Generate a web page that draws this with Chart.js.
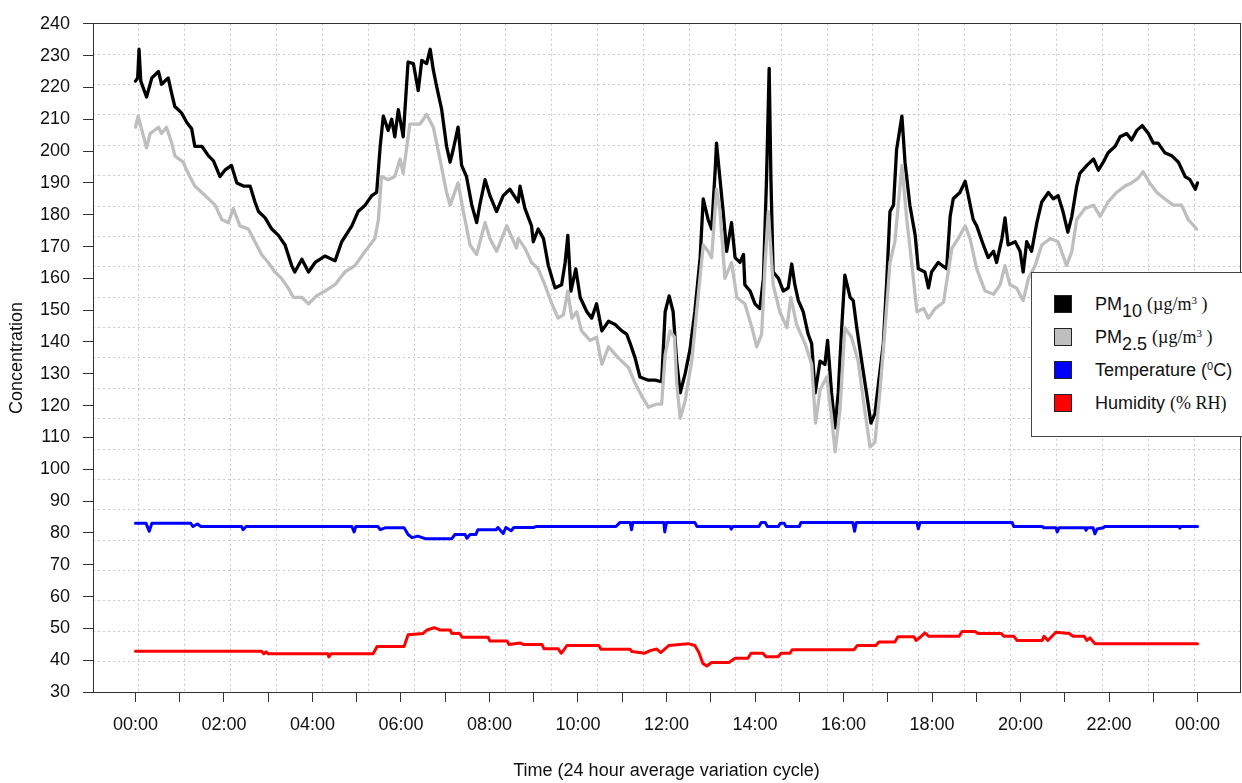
<!DOCTYPE html>
<html>
<head>
<meta charset="utf-8">
<script src="https://cdn.jsdelivr.net/npm/chart.js@4.4.1/dist/chart.umd.min.js"></script>
<style>
html,body{margin:0;padding:0;background:#fff;overflow:hidden;}
#wrap{position:relative;width:1242px;height:783px;overflow:hidden;}
#legend{position:absolute;left:1031px;top:272px;width:220px;height:165px;border:1px solid #444;background:#fff;box-sizing:border-box;font-family:"Liberation Sans",Arial,sans-serif;font-size:18px;color:#111;}
.row{position:absolute;left:0;right:0;height:20px;}
.sw{position:absolute;left:22px;top:1px;width:18px;height:18px;box-sizing:border-box;border:1px solid #222;}
.tx{position:absolute;left:63px;top:0;line-height:20px;white-space:nowrap;}
.serif{font-family:"Liberation Serif","Times New Roman",serif;font-size:18px;}
.sub{position:relative;top:7px;}
.sup{font-size:11px;position:relative;top:-6px;}
</style>
</head>
<body>
<div id="wrap">
<canvas id="c" width="1242" height="783"></canvas>
<div id="legend">
  <div class="row" style="top:21px"><div class="sw" style="background:#000"></div><div class="tx">PM<span class="sub">10</span>&nbsp;<span class="serif">(µg/m<span class="sup">3</span> )</span></div></div>
  <div class="row" style="top:54px"><div class="sw" style="background:#bebebe"></div><div class="tx">PM<span class="sub">2.5</span>&nbsp;<span class="serif">(µg/m<span class="sup">3</span> )</span></div></div>
  <div class="row" style="top:87px"><div class="sw" style="background:#0000ff"></div><div class="tx">Temperature (<span class="sup">0</span>C)</div></div>
  <div class="row" style="top:120px"><div class="sw" style="background:#ff0000"></div><div class="tx">Humidity <span class="serif">(% RH)</span></div></div>
</div>
</div>
<script>
// ---------- data ----------
const xTickHours = [0,1,2,3,4,5,6,7,8,9,10,11,12,13,14,15,16,17,18,19,20,21,22,23,24];
const yTickValues = [30,40,50,60,70,80,90,100,110,120,130,140,150,160,170,180,190,200,210,220,230,240];

const pm10Hours = [0,0.05,0.08,0.12,0.25,0.37,0.52,0.59,0.74,0.82,0.89,1.04,1.16,1.27,1.34,1.5,1.65,1.76,1.91,2.02,2.17,2.29,2.44,2.59,2.7,2.78,2.93,3.08,3.23,3.38,3.53,3.6,3.76,3.91,4.06,4.28,4.51,4.66,4.89,5.03,5.19,5.34,5.45,5.53,5.6,5.71,5.79,5.86,5.94,6.05,6.16,6.28,6.39,6.47,6.58,6.66,6.73,6.81,6.92,7.03,7.11,7.18,7.29,7.37,7.48,7.6,7.71,7.78,7.9,8.01,8.16,8.31,8.46,8.65,8.69,8.8,8.95,8.99,9.1,9.22,9.33,9.48,9.63,9.71,9.77,9.84,9.95,10.05,10.2,10.31,10.42,10.54,10.69,10.84,10.99,11.1,11.18,11.29,11.4,11.59,11.74,11.89,11.97,12.06,12.15,12.23,12.31,12.42,12.53,12.64,12.76,12.83,12.94,13.02,13.1,13.13,13.21,13.28,13.36,13.47,13.55,13.66,13.74,13.77,13.89,14.0,14.11,14.19,14.26,14.32,14.36,14.41,14.53,14.64,14.75,14.83,14.9,14.98,15.09,15.2,15.28,15.36,15.47,15.58,15.64,15.73,15.81,15.88,15.96,16.03,16.15,16.22,16.3,16.41,16.52,16.62,16.71,16.79,16.9,16.98,17.05,17.13,17.2,17.32,17.39,17.5,17.62,17.69,17.84,17.92,17.99,18.14,18.33,18.41,18.48,18.63,18.75,18.82,18.93,19.01,19.16,19.27,19.39,19.46,19.58,19.65,19.72,19.88,19.99,20.06,20.14,20.25,20.37,20.48,20.63,20.74,20.85,20.96,21.07,21.16,21.27,21.34,21.5,21.65,21.76,21.87,21.98,22.14,22.25,22.4,22.51,22.63,22.75,22.89,23.0,23.11,23.26,23.42,23.57,23.72,23.83,23.95,24.0];
const pm10Values = [222,223,232,222,217,223,225,221,223,218,214,212,209,207,201.5,201.5,198.5,197,192,194,195.5,190,189,189,184,181,179,175.5,173.5,170.5,164,162,166,162,165,167,165.5,171.5,176.5,181,183,186,187,201.5,211,206.5,210,204.5,213,204.5,228,227.5,219,228.5,227.5,232,225.5,220,213,201.5,196.5,200.5,207.5,195.5,192,183,177.5,183,191,186,181,186,188,184,189,182,176.5,171.5,175.5,172.5,164,157,158,165,173.5,156,163,154,149.5,147.5,152,143.5,146.5,145.5,143.5,142.5,139.5,135,129,128,128,127.5,149.5,154.5,149.5,134,124,130,137.5,149.5,166.5,185,178.5,175.5,194,202.5,191,181,168.5,177.5,166.5,165,167.5,158,156,152,150.5,160,191,226,191,162,160,156,157,164.5,158,153,149.5,142.5,139.5,124,134,133,140.5,124,113,124,144.5,161,154,153,144.5,134,124,114.5,117.5,127,139.5,160,181,183,200.5,211,196.5,183,173.5,163,162,157,162,165,163,179.5,185,187,190.5,186,178.5,176.5,170.5,166.5,168.5,165,172.5,179,170.5,171.5,168.5,162,171.5,168.5,177.5,184,187,185,186,181,174.5,179.5,189,193,195.5,197.5,194,196.5,199.5,201.5,204.5,205.5,203.5,206.5,208,205.5,202.5,202.5,199.5,198.5,196.5,192,191,188,190];

const pm25Hours = [0,0.06,0.25,0.33,0.52,0.59,0.7,0.82,0.89,1.08,1.19,1.34,1.5,1.65,1.8,1.95,2.1,2.21,2.36,2.55,2.7,2.85,3.0,3.15,3.3,3.45,3.57,3.76,3.91,4.09,4.28,4.51,4.73,4.96,5.19,5.41,5.49,5.56,5.71,5.86,5.98,6.05,6.2,6.43,6.58,6.73,6.88,7.03,7.11,7.29,7.41,7.56,7.71,7.9,8.01,8.16,8.39,8.61,8.65,8.8,8.95,9.1,9.25,9.41,9.55,9.67,9.77,9.86,9.97,10.08,10.27,10.42,10.54,10.69,10.91,11.14,11.29,11.44,11.59,11.78,11.89,11.97,12.08,12.18,12.23,12.31,12.42,12.57,12.72,12.83,12.94,13.02,13.13,13.21,13.32,13.47,13.59,13.77,13.93,14.04,14.15,14.23,14.3,14.36,14.41,14.56,14.72,14.81,14.94,15.13,15.28,15.37,15.47,15.62,15.73,15.81,15.92,16.03,16.18,16.33,16.48,16.6,16.71,16.82,16.94,17.05,17.16,17.32,17.43,17.54,17.66,17.81,17.92,18.07,18.26,18.45,18.59,18.75,18.86,19.01,19.2,19.39,19.54,19.65,19.76,19.91,20.06,20.18,20.33,20.48,20.67,20.85,21.04,21.16,21.27,21.46,21.65,21.8,21.98,22.17,22.36,22.51,22.66,22.77,22.92,23.08,23.26,23.45,23.64,23.79,23.98];
const pm25Values = [207.5,211,201,205.5,207.5,205.5,207.5,202.5,198.5,196.5,193,189,187,185,183,178.5,177.5,182,176.5,175.5,171.5,167.5,165,162,160,157,154,154,152,154.5,156,158,162,164,168.5,172.5,178.5,192,191,192,197.5,193,208.5,208.5,211.5,207.5,197.5,187,183,190,181,170.5,167.5,177.5,172.5,168.5,176.5,169.5,172.5,169.5,165,163,158,152,147.5,148.5,156,147.5,149.5,143.5,140.5,141.5,133,138.5,135,132,127,123,119.5,120.5,120.5,136,143.5,141.5,127,116,121.5,134,155,170.5,168.5,166.5,188,181,160,165,154,152,144.5,138.5,142.5,165,181,168.5,158,149.5,144.5,154,145.5,139.5,133,114.5,125,129,116.5,105.5,118.5,144.5,141.5,134,118.5,107,108.5,124,144.5,165,171.5,195.5,178.5,165,149.5,150.5,147.5,150.5,152.5,169.5,172.5,176.5,172.5,163,156,155,158,164,158,157,153,160,164,170.5,172.5,171.5,164,168.5,178.5,182,183,179.5,184,187,189,190,191.5,193.5,190,187,185,183,183,178.5,175.5];

const tempHours = [0,0.24,0.31,0.37,1.25,1.3,1.4,1.48,2.4,2.43,2.5,4.89,4.94,4.98,5.48,5.53,5.64,6.07,6.16,6.25,6.38,6.55,7.15,7.22,7.45,7.49,7.56,7.69,7.74,8.15,8.19,8.31,8.37,8.49,8.55,9.0,9.05,10.86,10.95,11.18,11.21,11.24,11.94,11.96,12.0,12.64,12.69,13.44,13.46,13.5,14.09,14.14,14.23,14.28,14.53,14.57,14.66,14.7,15.0,15.04,16.21,16.25,16.29,17.66,17.69,17.73,19.81,19.85,20.49,20.53,20.8,20.83,20.87,21.46,21.48,21.51,21.64,21.68,21.73,21.87,21.91,23.58,23.6,23.63,24.0];
const tempValues = [83,83,80.5,83,83,82,82.8,82,82,81,82,82,80.3,82,82,81,81.6,81.6,79.5,78.5,79,78.2,78.2,79.5,79.5,78.3,79.5,79.5,81,81,81.7,79.8,81.7,80.7,81.7,81.7,82,82,83.3,83.3,81,83.3,83.3,80.3,83.3,83.3,82,82,81.2,82,82,83.3,83.3,82,82,83,83,82,82,83.3,83.3,80.5,83.3,83.3,81.3,83.3,83.3,82,82,81.6,81.6,80.3,81.6,81.6,80.8,81.6,81.6,79.7,81.2,81.6,82,82,81.5,82,82];

const humHours = [0,2.85,2.9,2.95,3.0,4.35,4.37,4.42,5.37,5.46,6.07,6.16,6.5,6.59,6.75,6.88,7.11,7.15,7.33,7.38,7.97,8.01,8.4,8.44,8.69,8.78,9.19,9.23,9.55,9.62,9.68,9.75,10.47,10.52,11.18,11.22,11.51,11.63,11.78,11.87,11.96,12.05,12.49,12.64,12.73,12.82,12.91,13.02,13.41,13.55,13.84,13.91,14.18,14.25,14.52,14.59,14.79,14.84,16.24,16.31,16.73,16.8,17.16,17.23,17.59,17.64,17.73,17.84,17.93,18.61,18.68,18.97,19.04,19.56,19.63,19.85,19.92,20.49,20.53,20.62,20.71,20.8,21.1,21.19,21.44,21.5,21.57,21.68,24.0];
const humValues = [42.8,42.8,42,42.6,42,42,41,42,42,44.3,44.3,48,48.4,49.5,50.2,49.5,49.5,48.4,48.4,47.2,47.2,46,46,44.9,45.4,44.9,44.9,43.6,43.6,42.2,43.2,44.6,44.6,43.4,43.4,42.7,42.2,43,43.5,42.4,43.5,44.6,45.2,44.6,42.5,39,38.2,39.3,39.3,40.6,40.6,42.2,42.2,41.1,41.1,42.2,42.2,43.3,43.3,44.6,44.6,45.7,45.7,47.4,47.4,46.2,47.2,48.6,47.5,47.5,49,49,48.4,48.4,47.5,47.5,46.2,46.2,47.5,46.2,47.5,48.8,48.4,47.5,47.5,46.2,47,45.2,45.2];

// ---------- chart ----------
const X_MIN = -0.96, X_MAX = 24.96;   // 4% axis extension as in R
const Y_MIN = 30, Y_MAX = 240;
const X_GRID_CELLS = 25, Y_GRID_CELLS = 22;
const xGridValues = [];
for (let k = 1; k < X_GRID_CELLS; k++) xGridValues.push(X_MIN + k * (X_MAX - X_MIN) / X_GRID_CELLS);
const yGridValues = [];
for (let k = 1; k < Y_GRID_CELLS; k++) yGridValues.push(Y_MIN + k * (Y_MAX - Y_MIN) / Y_GRID_CELLS);

const toPts = (hs, vs) => hs.map((h, i) => ({x: h, y: vs[i]}));
const fmt = v => String(v % 24).padStart(2, '0') + ':00';
const FONT = '"Liberation Sans", Arial, sans-serif';
const gridCol = '#c9c9c9';

const lineDs = (label, hs, vs, color, order, w) => ({
  label, data: toPts(hs, vs), borderColor: color, backgroundColor: color,
  borderWidth: w, pointRadius: 0, tension: 0, fill: false, order,
  borderJoinStyle: 'round', borderCapStyle: 'round', xAxisID: 'x', yAxisID: 'y'
});

new Chart(document.getElementById('c'), {
  type: 'line',
  data: {
    datasets: [
      lineDs('PM10', pm10Hours, pm10Values, '#000000', 1, 3.3),
      lineDs('PM2.5', pm25Hours, pm25Values, '#bebebe', 0, 3.3),
      lineDs('Temperature', tempHours, tempValues, '#0000ff', 2, 3),
      lineDs('Humidity', humHours, humValues, '#ff0000', 3, 3)
    ]
  },
  options: {
    responsive: false, animation: false,
    layout: {padding: {top: 16, right: 2, left: 0, bottom: 0}},
    plugins: {legend: {display: false}, tooltip: {enabled: false}},
    events: [],
    scales: {
      x: {
        type: 'linear', position: 'bottom', min: X_MIN, max: X_MAX,
        afterBuildTicks: s => { s.ticks = xTickHours.map(v => ({value: v})); },
        afterFit: s => { s.height = 91; },
        ticks: {autoSkip: false, maxRotation: 0, minRotation: 0, padding: 12, color: '#111',
                font: {family: FONT, size: 18}, callback: v => (v % 2 === 0 ? fmt(v) : '')},
        grid: {drawOnChartArea: false, drawTicks: true, tickLength: 10, tickColor: '#333', tickWidth: 1},
        border: {display: true, color: '#333', width: 1},
        title: {display: true, text: 'Time (24 hour average variation cycle)', color: '#111',
                font: {family: FONT, size: 18}, padding: {top: 0, bottom: 1}}
      },
      y: {
        type: 'linear', position: 'left', min: Y_MIN, max: Y_MAX,
        afterBuildTicks: s => { s.ticks = yTickValues.map(v => ({value: v})); },
        afterFit: s => { s.width = 93; },
        ticks: {padding: 13, color: '#111', font: {family: FONT, size: 18}},
        grid: {drawOnChartArea: false, drawTicks: true, tickLength: 10, tickColor: '#333', tickWidth: 1},
        border: {display: true, color: '#333', width: 1},
        title: {display: true, text: 'Concentration', color: '#111',
                font: {family: FONT, size: 18}, padding: {top: 6, bottom: 0}}
      },
      xg: {
        type: 'linear', position: 'bottom', min: X_MIN, max: X_MAX,
        afterBuildTicks: s => { s.ticks = xGridValues.map(v => ({value: v})); },
        afterFit: s => { s.height = 0; },
        ticks: {display: false},
        grid: {display: true, drawTicks: false, color: gridCol, lineWidth: 1, borderDash: [2, 3]},
        border: {display: false, dash: [2, 3]}
      },
      yg: {
        type: 'linear', position: 'left', min: Y_MIN, max: Y_MAX,
        afterBuildTicks: s => { s.ticks = yGridValues.map(v => ({value: v})); },
        afterFit: s => { s.width = 0; },
        ticks: {display: false},
        grid: {display: true, drawTicks: false, color: gridCol, lineWidth: 1, borderDash: [2, 3]},
        border: {display: false, dash: [2, 3]}
      },
      xt: {
        type: 'linear', position: 'top', min: X_MIN, max: X_MAX,
        afterFit: s => { s.height = 0; },
        ticks: {display: false}, grid: {display: false},
        border: {display: true, color: '#333', width: 1}
      },
      yr: {
        type: 'linear', position: 'right', min: Y_MIN, max: Y_MAX,
        afterFit: s => { s.width = 0; },
        ticks: {display: false}, grid: {display: false},
        border: {display: true, color: '#333', width: 1}
      }
    }
  }
});
</script>
</body>
</html>
